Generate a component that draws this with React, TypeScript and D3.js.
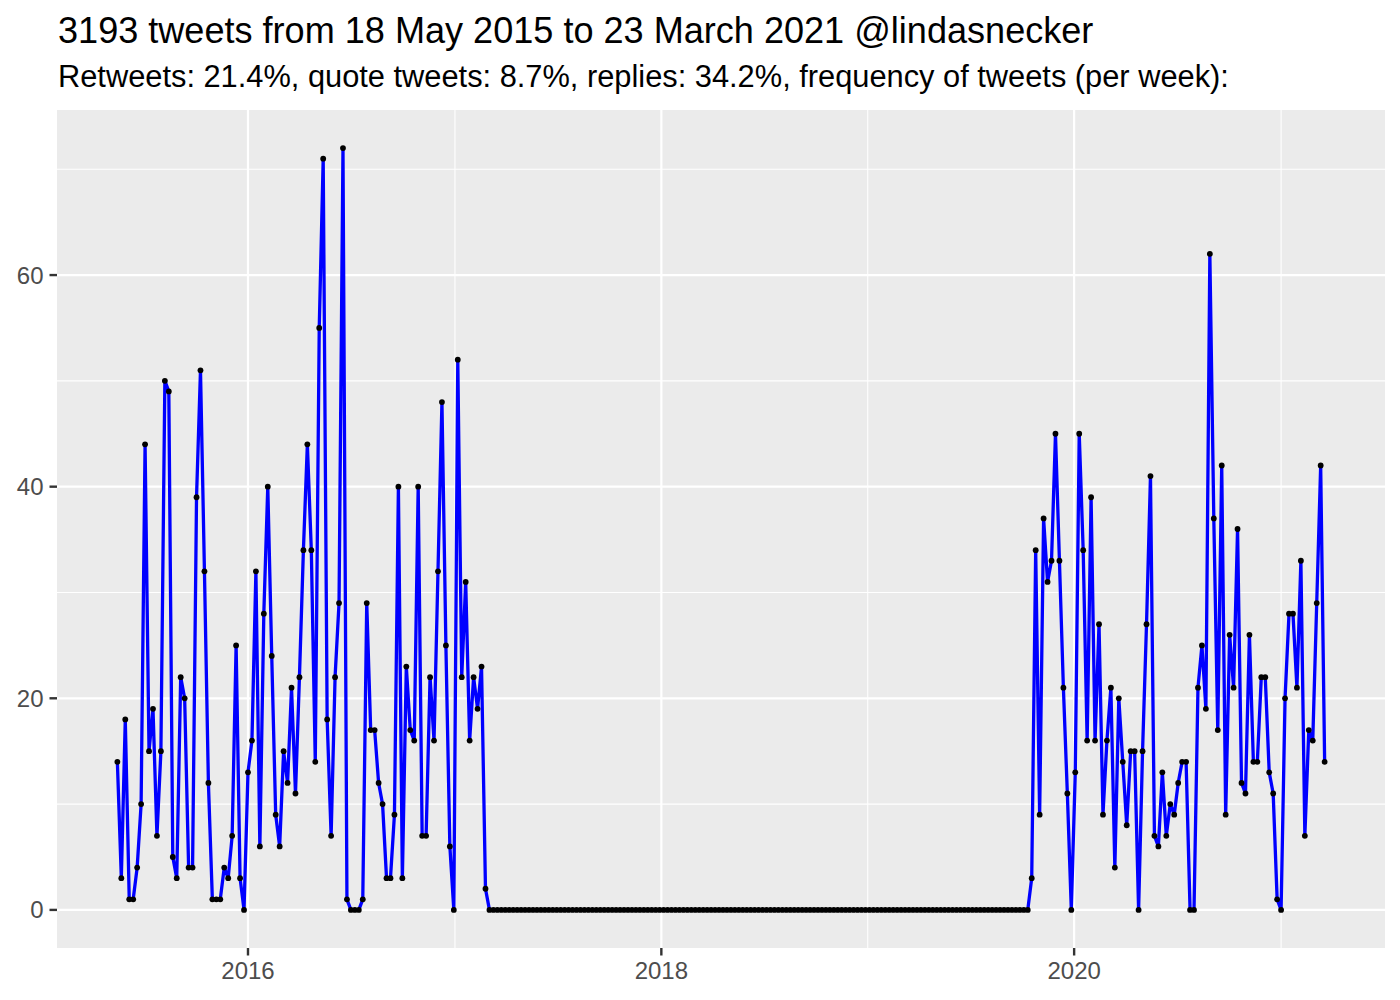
import React from "react";
import * as d3 from "d3";

const TITLE = "3193 tweets from 18 May 2015 to 23 March 2021 @lindasnecker";
const SUBTITLE =
  "Retweets: 21.4%, quote tweets: 8.7%, replies: 34.2%, frequency of tweets (per week):";

// first weekly bin
const FIRST_WEEK = "2015-05-15";

// weekly tweet counts, May 2015 – Feb 2017
const weeklyTweetsEarly = [
  14, 3, 18, 1, 1, 4, 10, 44, 15, 19,
  7, 15, 50, 49, 5, 3, 22, 20, 4, 4,
  39, 51, 32, 12, 1, 1, 1, 4, 3, 7,
  25, 3, 0, 13, 16, 32, 6, 28, 40, 24,
  9, 6, 15, 12, 21, 11, 22, 34, 44, 34,
  14, 55, 71, 18, 7, 22, 29, 72, 1, 0,
  0, 0, 1, 29, 17, 17, 12, 10, 3, 3,
  9, 40, 3, 23, 17, 16, 40, 7, 7, 22,
  16, 32, 48, 25, 6, 0, 52, 22, 31, 16,
  22, 19, 23, 2, 0,
];

// weekly tweet counts, dormant period Mar 2017 – Oct 2019
const weeklyTweetsDormant = [
  0, 0, 0, 0, 0, 0, 0, 0, 0, 0, 0, 0, 0, 0, 0,
  0, 0, 0, 0, 0, 0, 0, 0, 0, 0, 0, 0, 0, 0, 0,
  0, 0, 0, 0, 0, 0, 0, 0, 0, 0, 0, 0, 0, 0, 0,
  0, 0, 0, 0, 0, 0, 0, 0, 0, 0, 0, 0, 0, 0, 0,
  0, 0, 0, 0, 0, 0, 0, 0, 0, 0, 0, 0, 0, 0, 0,
  0, 0, 0, 0, 0, 0, 0, 0, 0, 0, 0, 0, 0, 0, 0,
  0, 0, 0, 0, 0, 0, 0, 0, 0, 0, 0, 0, 0, 0, 0,
  0, 0, 0, 0, 0, 0, 0, 0, 0, 0, 0, 0, 0, 0, 0,
  0, 0, 0, 0, 0, 0, 0, 0, 0, 0, 0, 0, 0, 0, 0,
];

// weekly tweet counts, Oct 2019 – Mar 2021
const weeklyTweetsLate = [
  0, 3, 34, 9, 37, 31, 33, 45, 33, 21,
  11, 0, 13, 45, 34, 16, 39, 16, 27, 9,
  16, 21, 4, 20, 14, 8, 15, 15, 0, 15,
  27, 41, 7, 6, 13, 7, 10, 9, 12, 14,
  14, 0, 0, 21, 25, 19, 62, 37, 17, 42,
  9, 26, 21, 36, 12, 11, 26, 14, 14, 22,
  22, 13, 11, 1, 0, 20, 28, 28, 21, 33,
  7, 17, 16, 29, 42, 14,
];

const yMajorTicks = [0, 20, 40, 60];
const yMinorTicks = [10, 30, 50, 70];
const xMajorYears = [2016, 2018, 2020];
const xMinorYears = [2017, 2019, 2021];

const W = 1400;
const H = 1000;
const PANEL = { left: 57, right: 1385, top: 110, bottom: 948 };
const FONT = "'Liberation Sans', Arial, Helvetica, sans-serif";
const TICK = 7.5;

export default function App() {
  const values = [...weeklyTweetsEarly, ...weeklyTweetsDormant, ...weeklyTweetsLate];
  const start = new Date(FIRST_WEEK + "T00:00:00Z").getTime();
  const DAY = 86400000;
  const data = values.map((v, i) => ({ date: new Date(start + i * 7 * DAY), value: v }));

  const [d0, d1] = d3.extent(data, (d) => d.date.getTime()) as [number, number];
  const span = d1 - d0;
  const x = d3
    .scaleTime()
    .domain([new Date(d0 - 0.05 * span), new Date(d1 + 0.05 * span)])
    .range([PANEL.left, PANEL.right]);

  const maxV = d3.max(values) as number;
  const y = d3
    .scaleLinear()
    .domain([-0.05 * maxV, maxV * 1.05])
    .range([PANEL.bottom, PANEL.top]);

  const line = d3
    .line<{ date: Date; value: number }>()
    .x((d) => x(d.date))
    .y((d) => y(d.value));

  const yearDate = (yr: number) => new Date(Date.UTC(yr, 0, 1));
  const inPanelX = (px: number) => px >= PANEL.left && px <= PANEL.right;

  return (
    <svg
      width={W}
      height={H}
      style={{ position: "absolute", left: 0, top: 0, display: "block", background: "#fff" }}
      fontFamily={FONT}
    >
      <rect x={0} y={0} width={W} height={H} fill="#ffffff" />
      <text x={58} y={43} fontSize={36.1} fill="#000">
        {TITLE}
      </text>
      <text x={58} y={87} fontSize={30.8} fill="#000">
        {SUBTITLE}
      </text>

      <rect
        x={PANEL.left}
        y={PANEL.top}
        width={PANEL.right - PANEL.left}
        height={PANEL.bottom - PANEL.top}
        fill="#EBEBEB"
      />
      {/* minor grid */}
      {yMinorTicks.map((t) => (
        <line
          key={"ym" + t}
          x1={PANEL.left}
          x2={PANEL.right}
          y1={y(t)}
          y2={y(t)}
          stroke="#fff"
          strokeWidth={1.1}
        />
      ))}
      {xMinorYears
        .filter((yr) => inPanelX(x(yearDate(yr))))
        .map((yr) => (
          <line
            key={"xm" + yr}
            x1={x(yearDate(yr))}
            x2={x(yearDate(yr))}
            y1={PANEL.top}
            y2={PANEL.bottom}
            stroke="#fff"
            strokeWidth={1.1}
          />
        ))}
      {/* major grid */}
      {yMajorTicks.map((t) => (
        <line
          key={"yM" + t}
          x1={PANEL.left}
          x2={PANEL.right}
          y1={y(t)}
          y2={y(t)}
          stroke="#fff"
          strokeWidth={2.2}
        />
      ))}
      {xMajorYears.map((yr) => (
        <line
          key={"xM" + yr}
          x1={x(yearDate(yr))}
          x2={x(yearDate(yr))}
          y1={PANEL.top}
          y2={PANEL.bottom}
          stroke="#fff"
          strokeWidth={2.2}
        />
      ))}

      {/* series */}
      <path
        d={line(data) as string}
        fill="none"
        stroke="#0000FF"
        strokeWidth={3.3}
        strokeLinejoin="round"
        strokeLinecap="butt"
      />
      {data.map((d, i) => (
        <circle key={i} cx={x(d.date)} cy={y(d.value)} r={2.9} fill="#000" />
      ))}

      {/* y axis */}
      {yMajorTicks.map((t) => (
        <g key={"yl" + t}>
          <line
            x1={PANEL.left - TICK}
            x2={PANEL.left}
            y1={y(t)}
            y2={y(t)}
            stroke="#333333"
            strokeWidth={2.4}
          />
          <text
            x={PANEL.left - TICK - 6}
            y={y(t)}
            textAnchor="end"
            dominantBaseline="central"
            fontSize={24}
            fill="#4D4D4D"
          >
            {t}
          </text>
        </g>
      ))}
      {/* x axis */}
      {xMajorYears.map((yr) => (
        <g key={"xl" + yr}>
          <line
            x1={x(yearDate(yr))}
            x2={x(yearDate(yr))}
            y1={PANEL.bottom}
            y2={PANEL.bottom + TICK}
            stroke="#333333"
            strokeWidth={2.4}
          />
          <text
            x={x(yearDate(yr))}
            y={PANEL.bottom + 31}
            textAnchor="middle"
            fontSize={24}
            fill="#4D4D4D"
          >
            {yr}
          </text>
        </g>
      ))}
    </svg>
  );
}
